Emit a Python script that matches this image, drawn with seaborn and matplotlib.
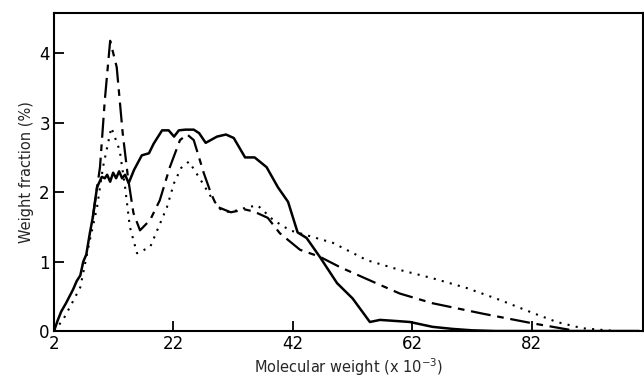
import matplotlib
matplotlib.use("Agg")
import matplotlib.pyplot as plt
import seaborn as sns
import pandas as pd

# Solid curve
solid_x = [2.0, 2.6, 3.2, 4.0, 4.6, 5.2, 5.8, 6.4, 6.9, 7.4, 8.0, 8.5, 9.2, 10.0, 10.5,
           10.9, 11.4, 11.9, 12.4, 12.9, 13.4, 13.9, 14.5, 15.4, 16.7, 17.9, 18.7,
           20.1, 21.2, 22.1, 22.9, 24.0, 25.4, 26.3, 27.4, 29.3, 30.8, 32.1, 34.0,
           35.6, 37.6, 39.5, 41.2, 42.8, 44.3, 46.5, 49.4, 52.0, 54.9, 56.6, 60.0,
           61.6, 65.4, 68.8, 72.0, 76.0, 82.0, 86.0, 90.0, 96.0, 100.0]
solid_y = [0.0, 0.15, 0.28, 0.4, 0.5, 0.6, 0.72, 0.8, 1.0, 1.1, 1.41, 1.64, 2.07, 2.22, 2.2,
           2.25, 2.15, 2.28, 2.2, 2.3, 2.2, 2.25, 2.13, 2.32, 2.53, 2.56, 2.7,
           2.89, 2.89, 2.8, 2.89, 2.9, 2.9, 2.85, 2.71, 2.8, 2.83, 2.78, 2.5,
           2.5, 2.36, 2.07, 1.86, 1.42, 1.34, 1.07, 0.69, 0.47, 0.13, 0.16, 0.14,
           0.13, 0.06, 0.03, 0.01, 0.0, 0.0, 0.0, 0.0, 0.0, 0.0]

# Dashed (long dash / short dash) curve
dash_x = [8.5, 9.7, 10.5, 11.4, 12.5, 13.5, 14.4, 15.3, 16.4, 18.1, 19.7, 21.4, 23.1,
          24.3, 25.4, 27.1, 28.3, 29.3, 31.6, 34.0, 35.5, 37.8, 39.8, 43.2, 46.5, 49.9,
          55.4, 59.9, 65.4, 73.8, 82.2, 86.2, 89.5]
dash_y = [1.64, 2.36, 3.32, 4.18, 3.8, 2.85, 2.2, 1.7, 1.45, 1.6, 1.88, 2.36, 2.75,
          2.83, 2.75, 2.27, 1.98, 1.79, 1.71, 1.75, 1.72, 1.63, 1.41, 1.17, 1.07, 0.92,
          0.71, 0.54, 0.40, 0.25, 0.11, 0.05, 0.0]

# Dotted curve
dot_x = [2.0, 3.5, 5.0, 6.4, 8.0, 9.2, 10.2, 11.6, 13.0, 13.9, 14.7, 15.9, 18.1, 20.9,
         22.1, 23.3, 24.6, 26.6, 28.3, 30.0, 31.5, 34.3, 36.1, 38.7, 41.5, 44.3, 48.7,
         54.4, 59.9, 65.4, 71.1, 76.6, 82.2, 86.2, 90.5, 96.0]
dot_y = [0.0, 0.16, 0.4, 0.63, 1.31, 1.78, 2.36, 2.93, 2.6, 2.07, 1.5, 1.12, 1.21, 1.78,
         2.13, 2.35, 2.44, 2.17, 1.93, 1.74, 1.71, 1.78, 1.81, 1.6, 1.45, 1.38, 1.27,
         1.02, 0.88, 0.76, 0.62, 0.45, 0.26, 0.13, 0.04, 0.0]

x_ticks = [2, 22, 42, 62, 82]
y_ticks = [0, 1, 2, 3, 4]

sns.set_theme(style="ticks")
plt.rcParams['font.family'] = ['DejaVu Sans']

fig = plt.figure(figsize=(6.44, 3.78), dpi=100)
ax = fig.add_axes([0.0839, 0.1243, 0.9141, 0.8413])

df_s = pd.DataFrame({"x": solid_x, "y": solid_y})
df_d = pd.DataFrame({"x": dash_x, "y": dash_y})
df_o = pd.DataFrame({"x": dot_x, "y": dot_y})

sns.lineplot(data=df_s, x="x", y="y", ax=ax, color="black", linewidth=1.8, sort=False)
sns.lineplot(data=df_d, x="x", y="y", ax=ax, color="black", linewidth=1.6, sort=False)
ax.lines[-1].set_dashes([9, 3, 3, 3])
sns.lineplot(data=df_o, x="x", y="y", ax=ax, color="black", linewidth=1.5, sort=False)
ax.lines[-1].set_linestyle((0, (1, 3)))

ax.set_xlim(2, 100.6)
ax.set_ylim(0, 4.58)
ax.set_xticks(x_ticks)
ax.set_yticks(y_ticks)
ax.set_xticklabels([str(t) for t in x_ticks])
ax.set_yticklabels([str(t) for t in y_ticks])
ax.tick_params(direction="in", length=7, width=1.3, labelsize=12, colors="black", pad=3)
for s in ax.spines.values():
    s.set_linewidth(1.5)
    s.set_color("black")
ax.set_xlabel("Molecular weight (x 10$^{-3}$)", fontsize=10.5, labelpad=2)
ax.set_ylabel("Weight fraction (%)", fontsize=10.5, labelpad=4)

fig.savefig("out.png", dpi=100)
